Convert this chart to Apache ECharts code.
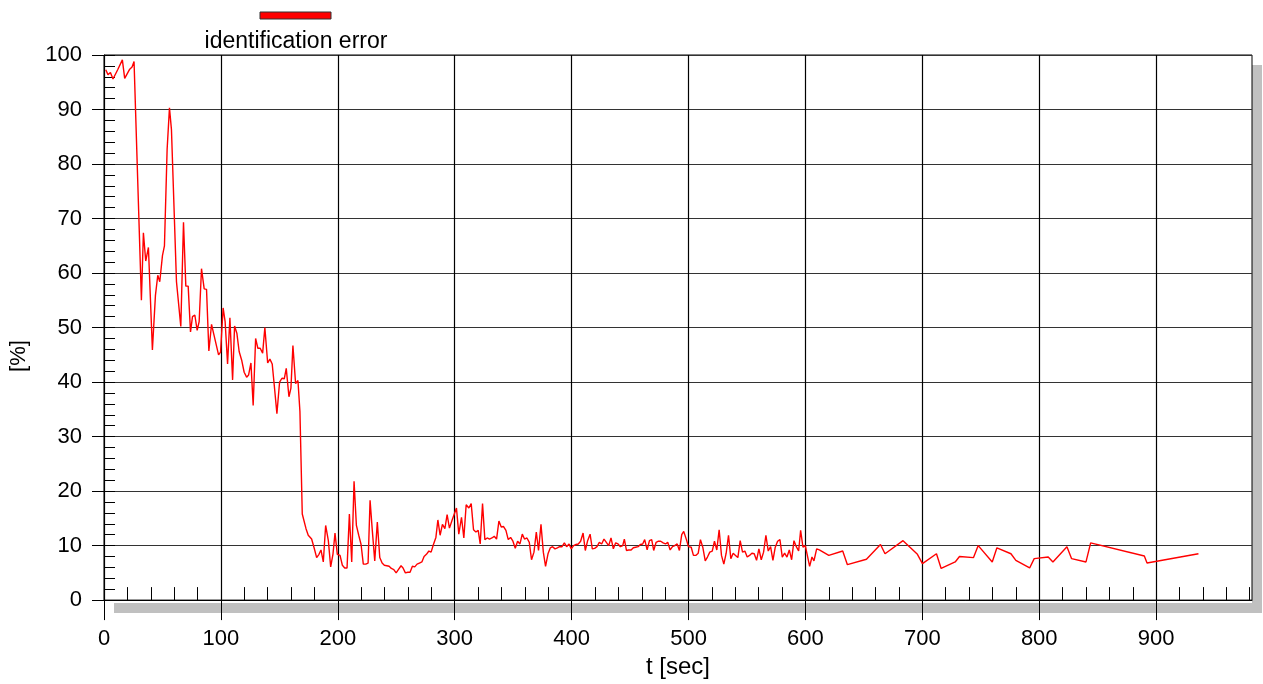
<!DOCTYPE html>
<html>
<head>
<meta charset="utf-8">
<script src="https://cdn.jsdelivr.net/npm/echarts@6/dist/echarts.min.js"></script>
<style>
html,body{margin:0;padding:0;background:#fff;}
#chart{width:1263px;height:684px;}
</style>
</head>
<body>
<div id="chart"></div>
<script>
// ---- data ----
const seriesName = 'identification error';
const xAxisName = 't [sec]';
const yAxisName = '[%]';
const xTickLabels = [0, 100, 200, 300, 400, 500, 600, 700, 800, 900];
const yTickLabels = [0, 10, 20, 30, 40, 50, 60, 70, 80, 90, 100];

const timesA = [1.5, 3.4, 5.5, 7.7, 11.7, 15.7, 17.7, 22, 24, 25.7, 32, 33.7, 35.7, 38, 41.4, 44, 46, 47.7, 50, 51.7, 54, 56, 57.7, 62, 65.7, 68, 70, 72, 74, 75.7, 77.7, 79.7, 81.4, 83.4, 85.7, 87.7, 89.7];
const errorsA = [97.3, 96.4, 96.8, 95.6, 97.3, 99.1, 95.7, 97.4, 97.8, 98.8, 55.0, 67.4, 62.2, 64.7, 45.9, 55.9, 59.6, 58.4, 63.2, 65.0, 82.7, 90.3, 86.3, 58.4, 50.2, 69.3, 57.6, 57.6, 49.2, 52.0, 52.3, 49.5, 51.1, 60.8, 57.1, 57.0, 45.7];

const timesB = [92.0, 94.0, 95.7, 98.0, 99.7, 101.9, 103.6, 105.7, 107.7, 110.0, 111.7, 113.7, 115.6, 117.9, 119.9, 122.0, 123.7, 125.7, 127.6, 129.7, 131.6, 133.6, 135.7, 137.6, 140.0, 141.9, 143.9, 145.6, 147.9, 150.2, 152.2, 154.2, 155.9, 158.2, 159.9, 161.6, 163.9, 165.9, 167.6, 169.6];
const errorsB = [50.6, 48.7, 48.6, 45.0, 45.5, 53.6, 51.1, 43.3, 51.8, 40.4, 50.3, 48.9, 45.6, 43.9, 41.8, 40.9, 41.3, 43.5, 35.7, 48.0, 46.2, 46.2, 45.3, 50.0, 43.5, 44.2, 43.3, 39.5, 34.2, 40.0, 40.7, 40.6, 42.5, 37.3, 38.9, 46.7, 39.7, 40.3, 34.6, 15.8];

const timesC = [172.8, 174.7, 177.6, 179.6, 181.9, 183.9, 185.6, 187.6, 189.6, 191.9, 193.9, 195.9, 197.6, 199.6, 201.9, 203.9, 205.9, 207.9, 209.9, 211.9, 213.9, 215.9, 217.9, 219.9, 221.8, 223.9, 225.9, 227.6, 229.5, 231.6, 233.8, 235.9, 237.9, 239.8, 241.9, 243.9, 245.8, 247.9, 249.9, 251.8, 254.1, 255.8, 257.8, 259.9, 261.8, 263.8, 265.8, 267.8, 269.8, 271.9, 273.8, 275.8, 277.9, 279.8, 281.8, 283.9, 285.6, 287.5, 289.5, 291.6, 293.5, 295.5, 297.8, 299.5];
const errorsC = [13.1, 11.9, 11.2, 9.7, 7.8, 8.4, 9.2, 7.0, 13.7, 10.9, 6.1, 8.5, 12.3, 8.4, 8.2, 6.4, 5.9, 5.9, 15.8, 7.0, 21.8, 13.7, 11.9, 10.2, 6.6, 6.6, 6.8, 18.3, 12.8, 7.2, 14.3, 7.8, 6.8, 6.4, 6.3, 6.2, 5.8, 5.6, 5.0, 5.6, 6.3, 5.9, 5.0, 5.1, 5.1, 6.2, 6.1, 6.6, 6.8, 7.0, 8.0, 8.4, 9.0, 8.8, 10.2, 11.5, 14.7, 11.9, 13.9, 13.1, 15.7, 13.2, 14.7, 14.9];

const timesD = [301.5, 303.5, 305.8, 307.8, 309.8, 312.1, 314.1, 316.1, 318.1, 320.1, 321.8, 323.8, 325.8, 327.8, 329.8, 331.8, 333.8, 335.8, 337.8, 339.8, 341.8, 343.8, 345.8, 347.8, 349.8, 351.8, 353.8, 355.8, 357.8, 359.7, 361.8, 363.8, 365.7, 367.8, 369.8, 371.7, 373.8, 375.8, 377.7, 379.8, 381.8, 383.7, 385.8, 387.8, 389.7, 391.8, 393.8, 395.7, 397.8, 399.7];
const errorsD = [16.9, 12.1, 15.2, 11.4, 17.5, 16.9, 17.7, 12.9, 12.5, 12.8, 10.3, 17.7, 11.1, 11.4, 11.2, 11.4, 11.7, 11.2, 14.5, 13.4, 13.5, 12.8, 11.1, 11.5, 10.8, 9.5, 10.8, 10.3, 12.1, 11.2, 11.4, 10.6, 7.4, 8.8, 12.5, 9.1, 13.9, 8.8, 6.2, 8.5, 9.6, 9.8, 9.4, 9.6, 9.8, 9.8, 10.5, 9.8, 10.3, 9.4];

const timesE = [401.7, 403.8, 405.7, 407.7, 409.8, 411.7, 413.7, 415.8, 417.7, 419.7, 421.7, 423.7, 425.7, 427.7, 429.7, 431.7, 433.7, 435.7, 437.7, 439.7, 441.7, 443.7, 445.1, 446.9, 448.8, 450.9, 452.8, 454.8, 456.9, 458.8, 460.8, 462.5, 464.6, 466.6, 468.5, 470.2, 472.3, 474.3, 476.2, 478.3, 480.3, 482.2, 484.3, 486.3, 488.2, 490.3, 492.2, 494.2, 495.9, 498.2, 500.0];
const errorsE = [10.0, 10.2, 10.3, 10.8, 12.3, 9.1, 10.9, 12.1, 9.4, 9.5, 9.8, 10.6, 10.3, 11.2, 10.6, 10.0, 11.4, 9.4, 10.5, 10.3, 9.8, 10.0, 11.2, 9.1, 9.2, 9.2, 9.6, 9.7, 9.8, 10.2, 10.3, 11.1, 9.2, 10.9, 11.1, 9.1, 10.6, 10.8, 10.8, 10.5, 10.3, 10.6, 9.2, 9.8, 10.0, 10.3, 9.1, 12.0, 12.6, 11.1, 9.8];

const timesF = [502.3, 504.2, 506.2, 508.3, 510.2, 512.2, 514.3, 516.2, 518.2, 520.3, 522.2, 524.2, 526.2, 528.2, 530.2, 532.2, 534.2, 536.2, 538.2, 540.2, 542.2, 544.2, 546.2, 548.2, 550.2, 552.2, 554.2, 556.2, 558.2, 560.2, 562.2, 564.2, 566.2, 568.2, 570.2, 572.2, 574.2, 576.2, 578.2, 580.2, 582.2, 584.2, 586.2, 588.2, 590.2, 592.2, 594.2, 595.9, 597.9, 599.9];
const errorsF = [9.7, 8.2, 8.2, 8.6, 11.1, 9.7, 7.2, 7.9, 8.8, 9.0, 10.8, 9.2, 12.9, 8.2, 6.6, 8.6, 11.9, 7.6, 8.6, 8.2, 7.8, 10.9, 8.8, 9.0, 7.9, 8.2, 8.6, 8.5, 7.3, 9.4, 7.4, 8.8, 11.9, 9.0, 9.8, 7.3, 9.7, 10.8, 11.1, 7.9, 8.6, 7.9, 9.2, 7.4, 10.9, 9.8, 9.0, 12.8, 9.7, 10.0];

const timesG = [601.6, 603.6, 605.6, 607.3, 609.6, 611.9, 620.0, 631.9, 635.9, 652.2, 664.2, 668.1, 683.5, 695.8, 700.1, 712.1, 716.1, 728.1, 731.8, 743.8, 747.8, 759.8, 763.8, 775.8, 780.0, 791.8, 795.7, 807.7, 811.7, 823.7, 827.7, 840.0, 844.0, 889.9, 892.2, 936.2];
const errorsG = [9.7, 6.2, 7.9, 7.2, 9.4, 9.2, 8.2, 9.0, 6.5, 7.5, 10.2, 8.5, 10.9, 8.4, 6.7, 8.5, 5.8, 7.0, 8.0, 7.8, 10.0, 7.0, 9.6, 8.5, 7.3, 5.9, 7.6, 7.9, 7.0, 9.8, 7.6, 7.0, 10.5, 8.1, 6.8, 8.5];

const times = [].concat(timesA, timesB, timesC, timesD, timesE, timesF, timesG);
const errors = [].concat(errorsA, errorsB, errorsC, errorsD, errorsE, errorsF, errorsG);
const seriesData = times.map((t, i) => [t, errors[i]]);

// ---- layout ----
const GL = 104, GT = 55, GW = 1148, GH = 548;
const X_MAX = 982;
const FONT = '"Liberation Sans", Arial, sans-serif';
const minorX = [];
for (let v = 20; v < X_MAX; v += 20) if (v % 100 !== 0) minorX.push(v);

const chart = echarts.init(document.getElementById('chart'), null, {renderer: 'canvas'});
chart.setOption({
  animation: false,
  backgroundColor: '#ffffff',
  grid: {
    left: GL, top: GT, width: GW, height: GH,
    show: true, borderColor: '#000', borderWidth: 1, backgroundColor: 'transparent'
  },
  graphic: [
    { type: 'rect', z: -1, shape: { x: GL + 10, y: GT + GH, width: GW, height: 10 }, style: { fill: '#c0c0c0' } },
    { type: 'rect', z: -1, shape: { x: GL + GW, y: GT + 10, width: 10, height: GH }, style: { fill: '#c0c0c0' } },
    { type: 'rect', shape: { x: 260, y: 12, width: 71, height: 7 }, style: { fill: '#ff0000', stroke: '#333', lineWidth: 1 } },
    { type: 'text', x: 296, y: 42, style: { text: seriesName, font: '23px ' + FONT, fill: '#000', align: 'center', verticalAlign: 'middle' } },
    { type: 'text', x: 19, y: 356, rotation: Math.PI / 2, style: { text: yAxisName, font: '22px ' + FONT, fill: '#000', align: 'center', verticalAlign: 'middle' } }
  ],
  xAxis: [
    {
      type: 'value', min: 0, max: X_MAX, interval: 100, position: 'bottom',
      name: xAxisName, nameLocation: 'middle', nameGap: 50,
      nameTextStyle: { fontSize: 24, color: '#000', fontFamily: FONT },
      axisLine: { show: true, lineStyle: { color: '#000', width: 1 } },
      axisTick: { show: true, inside: false, length: 20, lineStyle: { color: '#000', width: 1 }, customValues: xTickLabels },
      axisLabel: { show: true, margin: 28, fontSize: 22, color: '#000', fontFamily: FONT, customValues: xTickLabels },
      splitLine: { show: true, lineStyle: { color: '#000', width: 1.2 } }
    },
    {
      type: 'value', min: 0, max: X_MAX, position: 'bottom',
      axisLine: { show: false },
      axisTick: { show: true, inside: true, length: 13, lineStyle: { color: '#000', width: 1 }, customValues: minorX },
      axisLabel: { show: false },
      splitLine: { show: false }
    }
  ],
  yAxis: [
    {
      type: 'value', min: 0, max: 100, interval: 10, position: 'left',
      axisLine: { show: true, lineStyle: { color: '#000', width: 1 } },
      axisTick: { show: true, inside: false, length: 12, lineStyle: { color: '#000', width: 1 } },
      axisLabel: { show: true, margin: 22, fontSize: 22, color: '#000', fontFamily: FONT, customValues: yTickLabels },
      splitLine: { show: true, lineStyle: { color: '#333', width: 1.2 } }
    },
    {
      type: 'value', min: 0, max: 100, interval: 2, position: 'left',
      axisLine: { show: false },
      axisTick: { show: true, inside: true, length: 11, lineStyle: { color: '#000', width: 1 } },
      axisLabel: { show: false },
      splitLine: { show: false }
    }
  ],
  series: [
    {
      name: seriesName, type: 'line', xAxisIndex: 0, yAxisIndex: 0,
      data: seriesData, showSymbol: false, symbol: 'none',
      lineStyle: { color: '#ff0000', width: 1.4 },
      z: 5
    }
  ]
});
</script>
</body>
</html>
